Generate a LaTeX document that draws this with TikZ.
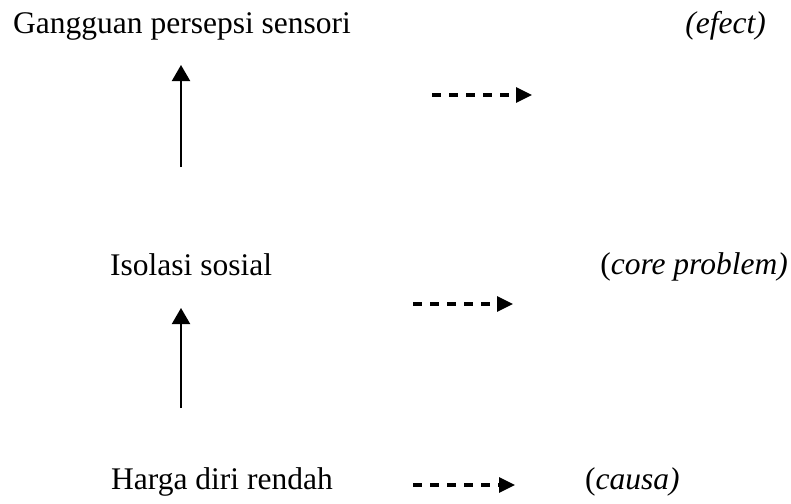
\documentclass[tikz,border=0pt]{standalone}
\usepackage{fontspec}
\setmainfont{Liberation Serif}
\usetikzlibrary{arrows.meta}
\begin{document}
\begin{tikzpicture}[x=1pt,y=-1pt,
  lbl/.style={inner sep=0pt,font=\fontsize{31.5}{36}\selectfont},
  solidarrow/.style={line width=2pt,-{Triangle[length=16pt,width=18pt]}},
  dasharrow/.style={line width=3.2pt,dash pattern=on 9pt off 8pt,-{Triangle[length=16pt,width=15pt]}}]
\useasboundingbox (0,0) rectangle (791,503);
\node[lbl,anchor=base west] (gps) at (13,34) {Gangguan persepsi sensori};
\node[lbl,anchor=base east] (efect) at (766,34) {\textit{(efect)}};
\node[lbl,anchor=base west] (iso) at (110,275) {Isolasi sosial};
\node[lbl,anchor=base east] (core) at (788,274) {(\textit{core problem)}};
\node[lbl,anchor=base west] (hdr) at (111,489) {Harga diri rendah};
\node[lbl,anchor=base west] (causa) at (585,489) {(\textit{causa)}};
\coordinate (a1s) at (181,167);
\coordinate (a1e) at (181,65);
\coordinate (a2s) at (181,408);
\coordinate (a2e) at (181,308);
\coordinate (d1s) at (432,95);
\coordinate (d1e) at (532,95);
\coordinate (d2s) at (413,304);
\coordinate (d2e) at (513,304);
\coordinate (d3s) at (413,485);
\coordinate (d3e) at (515,485);
\draw[solidarrow] (a1s) -- (a1e);
\draw[solidarrow] (a2s) -- (a2e);
\draw[dasharrow] (d1s) -- (d1e);
\draw[dasharrow] (d2s) -- (d2e);
\draw[dasharrow] (d3s) -- (d3e);
\end{tikzpicture}
\end{document}
